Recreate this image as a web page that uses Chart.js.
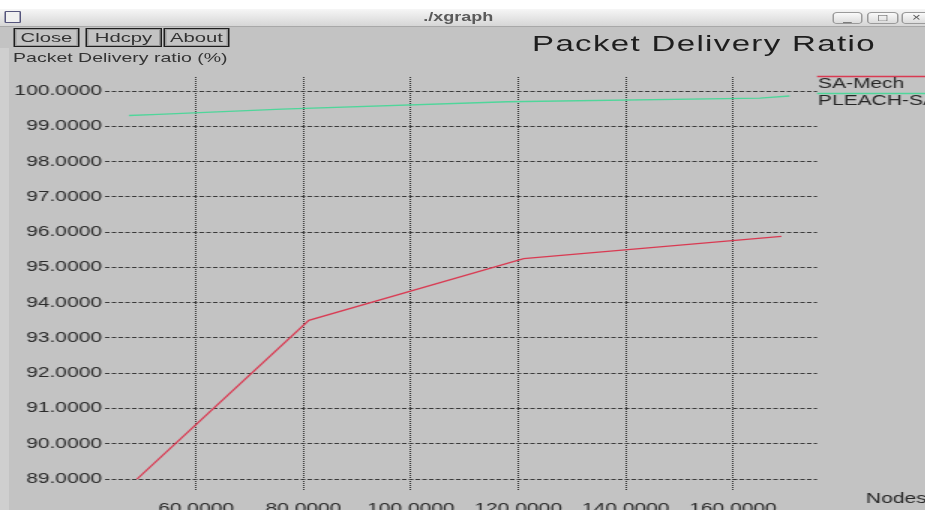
<!DOCTYPE html>
<html>
<head>
<meta charset="utf-8">
<script src="https://cdn.jsdelivr.net/npm/chart.js@4"></script>
<style>
  html, body { margin: 0; padding: 0; background: #c3c3c3; overflow: hidden; }
  /* the xgraph screenshot is stretched sideways, so lay out at 617px wide and scale by 1.5 */
  #win { position: absolute; left: 0; top: 0; width: 617px; height: 510px;
         transform: scaleX(1.5); transform-origin: 0 0; background: #c3c3c3;
         font-family: "Liberation Sans", Arial, sans-serif; }
  #topstrip { position: absolute; left: 0; top: 0; width: 617px; height: 9px; background: #fff; }
  #titlebar { position: absolute; left: 0; top: 9px; width: 617px; height: 17px;
              background: linear-gradient(#f6f6f6, #d6d6d6); border-bottom: 1px solid #a8a8a8; }
  #titlebar .name { position: absolute; left: 0; width: 611px; top: 1px; text-align: center;
                    font-weight: bold; font-size: 12px; line-height: 15px; color: #5a5a5a; }
  #titlebar .icon { position: absolute; left: 3px; top: 2px; width: 9px; height: 10px;
                    border: 1.5px solid #55557c; background: #f0f0f0; border-radius: 1px; }
  .wbtn { position: absolute; top: 3px; height: 12px; box-sizing: border-box;
          border: 1px solid #9a9a9a; border-radius: 3px; background: linear-gradient(#fafafa, #dcdcdc);
          font-size: 10px; line-height: 10px; text-align: center; color: #555; }
  .btn { position: absolute; top: 28px; height: 19px; box-sizing: border-box;
         border: 1px solid #1e1e1e; box-shadow: inset 0 0 0 1px #9c9c9c;
         font-size: 13.5px; line-height: 17px; text-align: center; color: #333; }
  #ptitle { position: absolute; left: 354.7px; top: 32.5px; font-size: 22px; line-height: 22px;
            letter-spacing: 0.9px; color: #1e1e1e; white-space: nowrap; }
  #ylabel { position: absolute; left: 8.7px; top: 51px; font-size: 13px; line-height: 13px;
            color: #333; white-space: nowrap; }
  #edge { position: absolute; left: 0; top: 48px; width: 6px; height: 462px; background: #cfcfcf; }
  #chart { position: absolute; left: 0; top: 0; }
</style>
</head>
<body>
<div id="win">
  <div id="edge"></div>
  <canvas id="chart" width="617" height="510"></canvas>
  <div id="topstrip"></div>
  <div id="titlebar">
    <div class="icon"></div>
    <div class="name">./xgraph</div>
    <div class="wbtn" style="left:555px;width:20px;">_</div>
    <div class="wbtn" style="left:578px;width:21px;">&#9633;</div>
    <div class="wbtn" style="left:601px;width:20px;">&#215;</div>
  </div>
  <div class="btn" style="left:8.7px;width:44.6px;">Close</div>
  <div class="btn" style="left:56.7px;width:51.3px;">Hdcpy</div>
  <div class="btn" style="left:108.7px;width:44.6px;">About</div>
  <div id="ptitle">Packet Delivery Ratio</div>
  <div id="ylabel">Packet Delivery ratio (%)</div>
</div>
<script>
// values
const nodeTicks = [60, 80, 100, 120, 140, 160];
const ratioTicks = [89, 90, 91, 92, 93, 94, 95, 96, 97, 98, 99, 100];

const samechNodes = [49, 81, 121, 169];
const samechRatio = [89.0, 93.5, 95.25, 95.88];

const pleachNodes = [47.5, 53, 76, 118, 165, 170.5];
const pleachRatio = [99.31, 99.34, 99.49, 99.70, 99.80, 99.86];

const seriesNames = ['SA-Mech', 'PLEACH-SA'];
const seriesColors = ['#d93a52', '#4fd69a'];
const xAxisName = 'Nodes';

const tickFont = { family: 'Liberation Sans', size: 14 };

function toPoints(xs, ys) {
    return xs.map((x, i) => ({ x: x, y: ys[i] }));
}

// legend in xgraph style: coloured line above each name, top right
const xgraphLegend = {
    id: 'xgraphLegend',
    afterDraw(chart) {
        const ctx = chart.ctx;
        const left = chart.chartArea.right;
        ctx.save();
        ctx.font = '14px "Liberation Sans"';
        ctx.textBaseline = 'alphabetic';
        ctx.textAlign = 'left';
        chart.data.datasets.forEach((ds, i) => {
            const y = 76.5 + i * 17;
            ctx.strokeStyle = ds.borderColor;
            ctx.lineWidth = 1.5;
            ctx.beginPath();
            ctx.moveTo(left, y);
            ctx.lineTo(chart.width, y);
            ctx.stroke();
            ctx.fillStyle = '#262626';
            ctx.fillText(ds.label, left + 0.6, y + 11.5);
        });
        // x axis name, bottom right
        ctx.fillText(xAxisName, 577.3, 503);
        ctx.restore();
    }
};

new Chart(document.getElementById('chart').getContext('2d'), {
    type: 'line',
    data: {
        datasets: [
            {
                label: seriesNames[0],
                data: toPoints(samechNodes, samechRatio),
                borderColor: seriesColors[0],
                borderWidth: 1.2,
                pointRadius: 0,
                fill: false,
                tension: 0
            },
            {
                label: seriesNames[1],
                data: toPoints(pleachNodes, pleachRatio),
                borderColor: seriesColors[1],
                borderWidth: 1.4,
                pointRadius: 0,
                fill: false,
                tension: 0
            }
        ]
    },
    options: {
        responsive: false,
        animation: false,
        events: [],
        layout: { padding: { top: 77, right: 72.3, left: 0, bottom: 0 } },
        scales: {
            x: {
                type: 'linear',
                min: 43.05,
                max: 175.64,
                afterBuildTicks: (axis) => { axis.ticks = nodeTicks.map(v => ({ value: v })); },
                afterFit: (axis) => { axis.height = 20; },
                ticks: {
                    font: tickFont,
                    color: '#2b2b2b',
                    padding: 11,
                    maxRotation: 0,
                    callback: (v) => v.toFixed(4)
                },
                grid: { color: '#2e2e2e', lineWidth: 1, drawTicks: false },
                border: { display: false, dash: [1, 1] }
            },
            y: {
                min: 88.69,
                max: 100.4,
                afterBuildTicks: (axis) => { axis.ticks = ratioTicks.map(v => ({ value: v })); },
                afterFit: (axis) => { axis.width = 70; },
                ticks: {
                    font: tickFont,
                    color: '#2b2b2b',
                    padding: 2,
                    callback: (v) => v.toFixed(4)
                },
                grid: { color: '#3a3a3a', lineWidth: 1, drawTicks: false },
                border: { display: false, dash: [3, 1.5] }
            }
        },
        plugins: {
            legend: { display: false },
            tooltip: { enabled: false },
            title: { display: false }
        }
    },
    plugins: [xgraphLegend]
});
</script>
</body>
</html>
